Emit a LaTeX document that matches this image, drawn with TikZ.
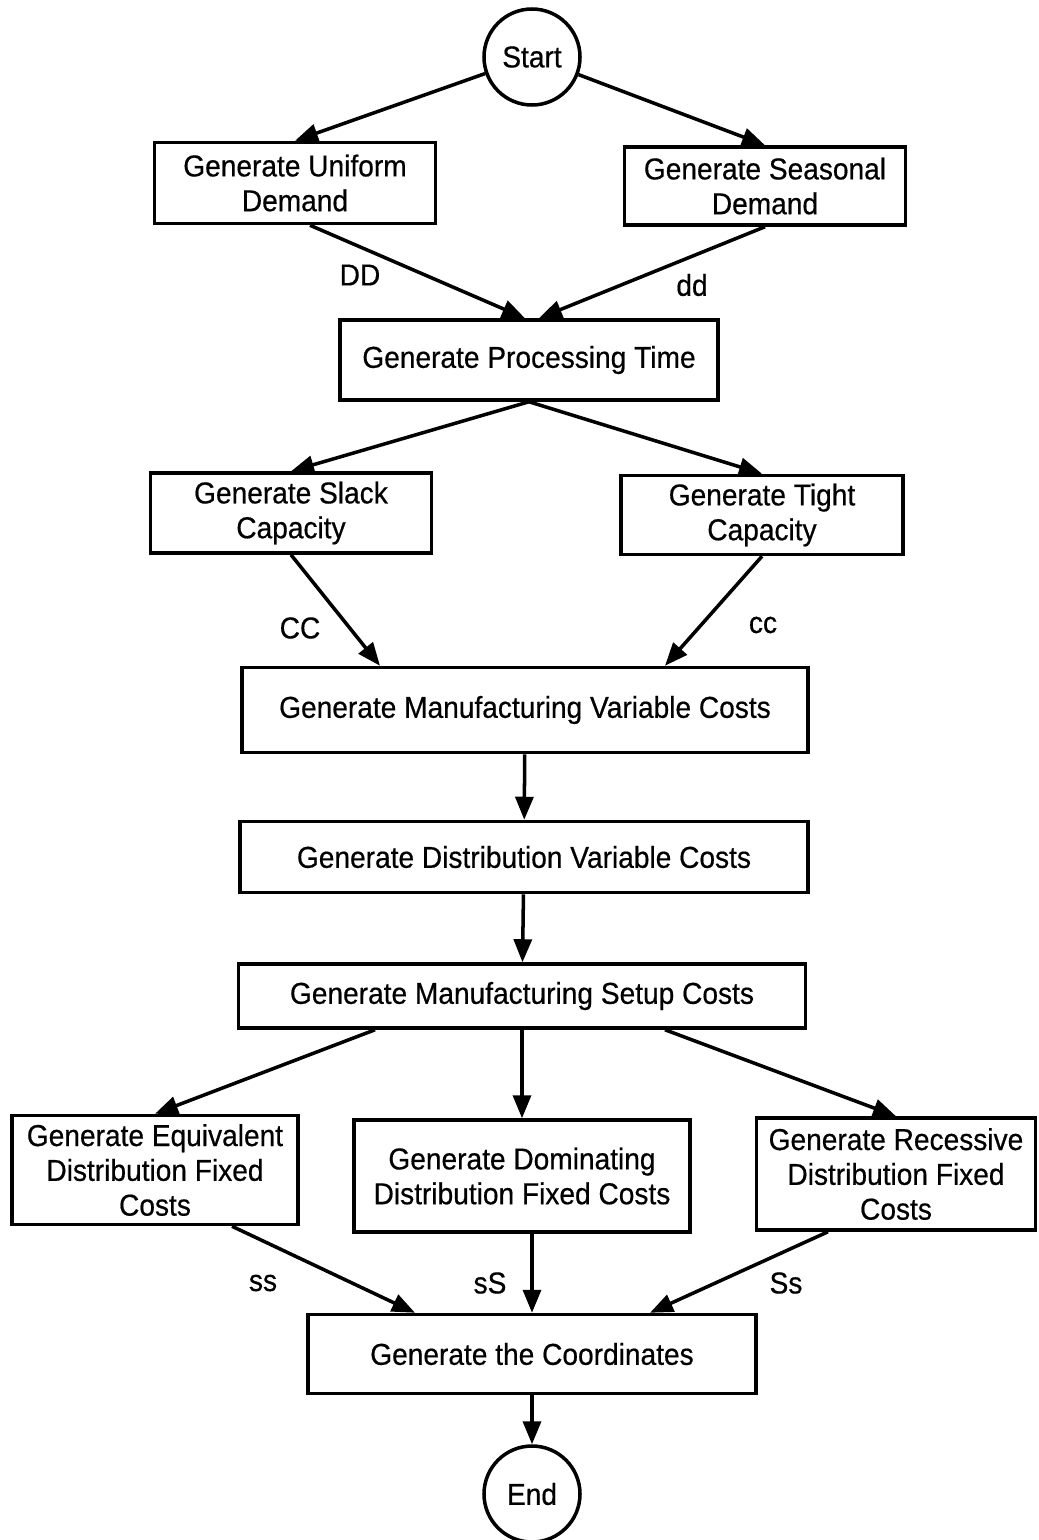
\documentclass[tikz,border=0pt]{standalone}
\usepackage{fontspec}
\setmainfont[FakeStretch=0.93,FakeBold=0.5]{Liberation Sans}
\usetikzlibrary{arrows.meta,calc}

\begin{document}
\begin{tikzpicture}[x=0.1mm,y=-0.1mm,line width=1pt,
		box/.style={draw,align=center,font=\fontsize{8.6}{9.9}\selectfont},
		term/.style={draw,circle,minimum size=9.6mm,font=\fontsize{8.6}{9.9}\selectfont},
		lbl/.style={font=\fontsize{8.6}{9.9}\selectfont},
		arr/.style={-{Triangle[length=2.3mm,width=1.8mm]}}]
		\tikzstyle{every node}+=[inner sep=0pt]
		\useasboundingbox (0,0) rectangle (1038,1540);
		\node [term] (start) at (532,57) {Start};
		\node [box,minimum width=28.1mm,minimum height=8.1mm] (uniform) at (295,183) {Generate Uniform\\Demand};
		\node [box,minimum width=28.1mm,minimum height=7.8mm] (seasonal) at (765,186) {Generate Seasonal\\Demand};
		\node [box,minimum width=37.8mm,minimum height=8mm] (proctime) at (529,360) {Generate Processing Time};
		\node [box,minimum width=28.1mm,minimum height=8mm] (slack) at (291,513) {Generate Slack\\Capacity};
		\node [box,minimum width=28.2mm,minimum height=7.9mm] (tight) at (762,515) {Generate Tight\\Capacity};
		\node [box,minimum width=56.6mm,minimum height=8.5mm] (mfgvar) at (525,710) {Generate Manufacturing Variable Costs};
		\node [box,minimum width=56.8mm,minimum height=7.1mm] (distvar) at (524,857) {Generate Distribution Variable Costs};
		\node [box,minimum width=56.7mm,minimum height=6.4mm] (setup) at (522,996) {Generate Manufacturing Setup Costs};
		\node [box,minimum width=28.6mm,minimum height=10.9mm] (equiv) at (155,1170) {Generate Equivalent\\Distribution Fixed\\Costs};
		\node [box,minimum width=33.6mm,minimum height=11.2mm] (domin) at (522,1176) {Generate Dominating\\Distribution Fixed Costs};
		\node [box,minimum width=27.9mm,minimum height=11.2mm] (recess) at (896,1174) {Generate Recessive\\Distribution Fixed\\Costs};
		\node [box,minimum width=44.8mm,minimum height=7.9mm] (coords) at (532,1354) {Generate the Coordinates};
		\node [term] (end) at (532,1494) {End};
		\node [lbl] (lDD) at (360,275) {DD};
		\node [lbl] (ldd) at (692,285) {dd};
		\node [lbl] (lCC) at (300,628) {CC};
		\node [lbl] (lcc) at (763,625) {cc};
		\node [lbl] (lss) at (263,1283) {ss};
		\node [lbl] (lsS) at (490,1283) {sS};
		\node [lbl] (lSs) at (786,1283) {Ss};
		\draw [arr] (start) -- (uniform.north);
		\draw [arr] (start) -- (seasonal.north);
		\draw [arr] ($(uniform.south)+(15,0)$) -- ($(proctime.north)+(-4,0)$);
		\draw [arr] (seasonal.south) -- ($(proctime.north)+(10,0)$);
		\draw [arr] (proctime.south) -- (slack.north);
		\draw [arr] (proctime.south) -- (tight.north);
		\draw [arr] (slack.south) -- ($(mfgvar.north)+(-145,0)$);
		\draw [arr] (tight.south) -- ($(mfgvar.north)+(140,0)$);
		\draw [arr] (mfgvar) -- (distvar);
		\draw [arr] (distvar) -- (setup);
		\draw [arr] ($(setup.south)+(-147,0)$) -- (equiv.north);
		\draw [arr] (setup.south) -- (domin.north);
		\draw [arr] ($(setup.south)+(143,0)$) -- (recess.north);
		\draw [arr] ($(equiv.south)+(77,0)$) -- ($(coords.north)+(-117,0)$);
		\draw [arr] (domin.south -| coords.north) -- (coords.north);
		\draw [arr] ($(recess.south)+(-68,0)$) -- ($(coords.north)+(118,0)$);
		\draw [arr] (coords) -- (end);
	\end{tikzpicture}
\end{document}
